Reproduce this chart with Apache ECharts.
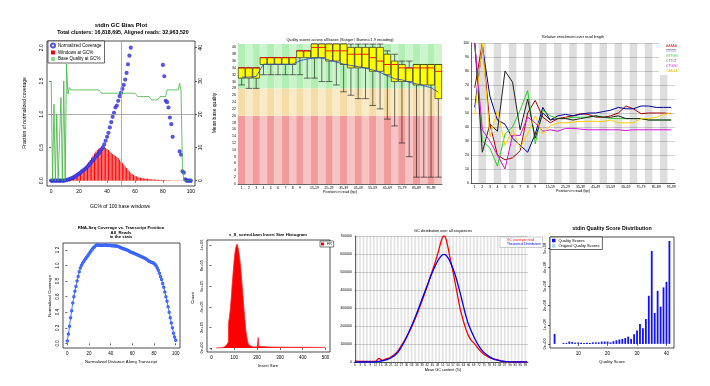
<!DOCTYPE html>
<html><head><meta charset="utf-8">
<script src="https://cdn.jsdelivr.net/npm/echarts@6/dist/echarts.min.js"></script>
<style>html,body{margin:0;padding:0;background:#fff}#c{width:710px;height:386px}</style>
</head><body><div id="c"></div>
<script>
// ---------------- Panel 1: GC bias plot (index = GC%) ----------------
const gcCoverage = [0,0,0,0,0,0,0,0,0,0,0.005,
 0.01,0.015,0.02,0.03,0.04,0.05,0.06,0.075,0.09,0.105,
 0.12,0.14,0.155,0.17,0.19,0.21,0.235,0.26,0.285,0.31,
 0.33,0.36,0.385,0.41,0.44,0.47,0.5,0.545,0.6,0.66,
 0.72,0.8,0.88,0.96,1.02,1.1,1.13,1.2,1.27,1.32,
 1.38,1.44,1.52,1.62,1.75,1.88,2.0,null,null,null,
 null,null,null,null,null,null,null,null,null,null,
 null,null,null,null,null,null,null,null,null,1.74,
 1.57,1.2,1.18,1.1,0.95,0.85,0.66,null,null,null,
 null,0.44,0.39,0.14,0.12,0.02,0,0,0,0];
const gcWindows = [0,0,0,0,0,0,0,0,0,0,0.002,
 0.004,0.007,0.012,0.018,0.025,0.035,0.045,0.058,0.072,0.09,
 0.11,0.13,0.16,0.19,0.22,0.25,0.28,0.31,0.35,0.38,
 0.41,0.44,0.46,0.48,0.49,0.5,0.515,0.505,0.49,0.475,
 0.46,0.44,0.42,0.4,0.385,0.37,0.355,0.34,0.315,0.29,
 0.265,0.24,0.215,0.19,0.165,0.14,0.12,0.1,0.087,0.075,
 0.065,0.055,0.05,0.045,0.04,0.037,0.034,0.031,0.028,0.025,
 0.023,0.021,0.019,0.017,0.015,0.014,0.013,0.012,0.011,0.01,
 0.009,0.008,0.007,0.006,0.005,0.004,0.004,0.003,0.003,0.002,
 0.002,0.001,0.001,0.001,0,0,0,0,0,0];
const gcBaseQual = [30,0,23,0,20,0,0,25,0,30,0,35,26,28,
 27.3,27.3,27.3,27.3,27.3,27.3,27.3,27.3,27.3,27.3,27.3,27.3,27.3,27.3,27.3,27.3,27.3,27.3,27.3,27.3,27.3,27.3,
 26.3,26.3,26.3,26.3,26.3,26.3,26.3,26.3,26.3,26.3,26.3,26.3,26.3,26.3,26.3,26.3,26.3,26.3,26.3,26.3,26.3,26.3,26.3,26.3,26.3,26.3,
 25.3,25.3,25.3,25.3,25.3,25.3,25.3,25.3,25.3,25.3,
 24.3,24.3,24.3,24.3,24.3,24.3,
 25.3,25.3,25.3,25.3,25.3,
 27.3,27.3,27.3,27.3,27.3,27.3,27.3,27.3,27.3,
 29.3,27,4,0,0,0,0,0,0];
const p1XTicks = [0,20,40,60,80,100];
const p1YTicks = [0,0.5,1,1.5,2];
const p1Y2Ticks = [0,10,20,30,40];

// ---------------- Panel 2: per-base quality boxplots ----------------
const p2Cats = ['1','2','3','4','5','6','7','8','9','10-14','15-19','20-24','25-29','30-34','35-39','40-44','45-49','50-54','55-59','60-64','65-69','70-74','75-79','80-84','85-89','90-94','95-99','100-101'];
const p2Low  = [29,28,28,32,32,32,32,32,32,31,31,30,30,29,27,26,25,25,23,22,19,17,12,8,2,2,2,2];
const p2Q1   = [31,31,31,35,35,35,35,35,37,37,37,37,36,36,35,34,34,34,33,33,32,30,30,30,29,29,29,25];
const p2Med  = [34,34,34,37,37,37,37,37,39,39,40,40,39,39,39,38,38,38,37,36,35,35,34,34,34,34,34,33];
const p2Q3   = [34,34,34,37,37,37,37,37,39,39,41,41,41,41,41,40,40,40,40,40,38,36,35,34,35,35,35,35];
const p2High = [34,34,34,37,37,37,37,37,39,39,41,41,41,41,41,41,41,41,41,41,39,38,36,36,35,35,35,35];
const p2Mean = [31.3,31.3,31.5,35.1,35.1,35.1,35.1,35.1,36.1,36.6,36.9,36.9,36.3,35.7,35.1,34.7,34.4,33.9,33.4,32.7,31.7,30.8,30.5,29.8,29.3,28.8,28.2,26.9];
const p2YTicks = [0,2,4,6,8,10,12,14,16,18,20,22,24,26,28,30,32,34,36,38,40];

// ---------------- Panel 3: k-mer relative enrichment ----------------
const p3Cats = ['1','2','3','4','5','6','7','8','9','10-14','15-19','20-24','25-29','30-34','35-39','40-44','45-49','50-54','55-59','60-64','65-69','70-74','75-79','80-84','85-89','90-94','95-99'];
const kmerAAAAA = [68,100,42,20,16.5,18,23,50,59,47,43,46,47,48,49.5,49,47,47,48,50,55,53,49.5,50,50,50,49.5];
const kmerTTTTT = [54,98,62,45,42,32,27,22,35,54,45,48,49,48,49,50,50,51,52,54,53,53,55,55,54,54,54];
const kmerGTTGG = [100,30,25,12,35,40,52,66,28,52,48,46,46,47,47,47,48,47,46,46,46,46,46,45,45,45,45];
const kmerCTTCT = [100,22,42,37,80,72,38,60,32,50,45,46,46,45,46,47,48,47,47,48,46,46,46,45,45,45,45];
const kmerCTGGC = [100,38,30,20,10,34,34,47,43,37,38,37,39,39,38.5,38,38,38,38,38,37.5,38,38,38,38,38,38];
const kmerCAAGA = [49,100,33,52,27,38,25,35,48,35,41,43,43,43.5,44,44,44,44,45,43,43,43,46,46,47,49,50];

// ---------------- Panel 4: RNA-seq coverage (index = % along transcript) ----------------
const rnaCoverage = [0.03,0.12,0.22,0.33,0.42,0.52,0.6,0.67,0.73,0.8,
 0.86,0.92,0.97,1.0,1.03,1.05,1.07,1.09,1.11,1.13,
 1.15,1.17,1.19,1.21,1.23,1.24,1.255,1.265,1.265,1.26,
 1.262,1.26,1.258,1.26,1.262,1.265,1.26,1.258,1.26,1.258,
 1.257,1.256,1.255,1.254,1.252,1.25,1.248,1.246,1.24,1.232,
 1.225,1.22,1.215,1.21,1.205,1.2,1.193,1.186,1.178,1.172,
 1.165,1.16,1.155,1.15,1.143,1.136,1.13,1.123,1.117,1.11,
 1.104,1.097,1.09,1.08,1.07,1.06,1.053,1.046,1.04,1.035,
 1.028,1.015,0.995,0.97,0.94,0.9,0.86,0.82,0.77,0.72,
 0.66,0.6,0.54,0.47,0.4,0.33,0.26,0.2,0.13,0.08,0.04];
const p4XTicks = [0,20,40,60,80,100];
const p4YTicks = [0,0.2,0.4,0.6,0.8,1.0,1.2];

// ---------------- Panel 5: insert size histogram ----------------
const insertSizes  = [20,40,50,55,60,65,70,74,75,78,80,83,85,88,90,93,95,98,100,103,105,108,110,112,115,118,120,123,125,128,130,133,135,138,140,143,145,148,150,153,155,158,160,163,165,170,180,190,200,203,205,207,210,250,300,350,400,450,500];
const insertCounts = [0,500,3000,8000,15000,25000,40000,60000,250000,290000,330000,390000,450000,530000,600000,680000,740000,820000,870000,930000,960000,990000,1000000,1010000,995000,960000,930000,880000,840000,780000,720000,640000,580000,500000,440000,360000,300000,230000,180000,130000,100000,70000,50000,35000,25000,15000,10000,9000,9000,20000,100000,15000,9000,8000,7000,6000,6000,5000,4000];
const p5XTicks = [0,100,200,300,400,500];
const p5YTicks = [0,200000,400000,600000,800000,1000000];

// ---------------- Panel 6: GC distribution ----------------
const gcReadX = [0,2,4,6,8,10,12,13,14,15,16,17,18,20,22,24,26,28,30,32,34,36,38,40,42,44,46,48,50,51,52,53,54,55,56,57,58,59,60,61,62,63,64,65,66,67,68,69,70,72,74,76,78,80,82,84,86,88,90,94,100];
const gcReadY = [6000,4000,3000,3000,3000,3000,4000,12000,20000,14000,9000,12000,18000,22000,34000,50000,76000,106000,138000,175000,218000,264000,314000,366000,420000,480000,535000,598000,668000,695000,700000,680000,640000,590000,545000,500000,450000,400000,350000,301000,262000,227000,195000,168000,145000,128000,116000,106000,95000,70000,50000,36000,26000,19000,14000,8000,4000,2000,800,0,0];
const gcTheoX = [0,10,12,14,16,18,20,22,24,26,28,30,32,34,36,38,40,42,44,46,48,50,51,52,53,54,55,56,57,58,59,60,61,62,63,64,65,66,68,70,72,74,76,78,80,82,84,86,88,90,92,94,100];
const gcTheoY = [0,0,1500,3700,7000,12000,18500,29000,44500,68000,100000,138000,180000,225000,273000,324000,375000,425000,475000,521000,560000,588000,596000,598000,592000,580000,563000,542000,518000,490000,460000,425000,388000,350000,310000,272000,238000,208000,162000,122000,88000,62000,44000,30000,19000,12000,8000,4500,2000,800,200,0,0];
const p6Cats = []; for (let i = 0; i <= 100; i++) p6Cats.push(String(i));

// ---------------- Panel 7: quality score distribution ----------------
const qScores = [2,5,6,7,8,9,10,11,12,13,14,15,16,17,18,19,20,21,22,23,24,25,26,27,28,29,30,31,32,33,34,35,36,37,38,39,40,41];
const qCounts = [0.52e8,0.05e8,0.05e8,0.12e8,0.1e8,0.07e8,0.07e8,0.06e8,0.05e8,0.06e8,0.05e8,0.08e8,0.08e8,0.08e8,0.12e8,0.12e8,0.12e8,0.08e8,0.14e8,0.19e8,0.23e8,0.26e8,0.31e8,0.38e8,0.26e8,0.5e8,0.7e8,1.04e8,0.82e8,1.3e8,2.52e8,4.87e8,1.62e8,2.78e8,1.95e8,2.96e8,3.25e8,5.39e8];
const p7XTicks = [10,20,30,40];
const p7YTicks = [0,1e8,2e8,3e8,4e8,5e8];

// ================= helpers =================
const FONT = 'Liberation Sans';
function sci(v){ if (v === 0) return '0e+00'; const e = Math.floor(Math.log10(Math.abs(v)) + 1e-9); const m = Math.round(v / Math.pow(10, e)); return m + 'e+' + (e < 10 ? '0' : '') + e; }
function rAxis(gi, min, max, ticks, fmt, rot, pos, fs) {
  return { type: 'value', gridIndex: gi, min: min, max: max, position: pos,
    axisLine: { show: false }, splitLine: { show: false },
    axisTick: { show: true, customValues: ticks, length: 2, lineStyle: { color: '#000', width: 0.6 } },
    axisLabel: { customValues: ticks, fontSize: fs || 5, margin: 3, color: '#000', rotate: rot || 0, formatter: fmt || undefined } };
}
function txt(x, y, s, size, bold, rot, color) {
  return { type: 'text', x: x, y: y, rotation: rot || 0, silent: true,
    style: { text: s, fontSize: size, fontWeight: bold ? 'bold' : 'normal', fontFamily: FONT, fill: color || '#000', align: 'center', verticalAlign: 'middle' } };
}
const oneDec = v => v.toFixed(1);
const plain = v => String(v);
const lighter = (i, a, b) => (i % 2 === 0 ? a : b);

const option = {
  animation: false,
  backgroundColor: '#fff',
  textStyle: { fontFamily: FONT },
  grid: [
    { left: 47, top: 41, width: 148, height: 145, show: true, borderColor: '#000', borderWidth: 0.7, backgroundColor: 'transparent' },
    { left: 238, top: 44, width: 204, height: 140 },
    { left: 471, top: 43, width: 204, height: 140 },
    { left: 63, top: 243, width: 117, height: 105, show: true, borderColor: '#000', borderWidth: 0.7, backgroundColor: 'transparent' },
    { left: 207, top: 240, width: 123, height: 112, show: true, borderColor: '#000', borderWidth: 0.7, backgroundColor: 'transparent' },
    { left: 354, top: 236, width: 174, height: 126 },
    { left: 550, top: 237, width: 124, height: 111, show: true, borderColor: '#000', borderWidth: 0.7, backgroundColor: 'transparent' }
  ],
  xAxis: [
    rAxis(0, -3, 103, p1XTicks, null, 0, 'bottom', 5),
    { type: 'category', gridIndex: 1, data: p2Cats, boundaryGap: true,
      axisLine: { lineStyle: { color: '#000', width: 0.6 } }, axisTick: { show: false },
      axisLabel: { fontSize: 3.5, margin: 2, color: '#000', interval: (i) => i < 9 || (i >= 10 && i <= 26 && (i - 10) % 2 === 0) } },
    { type: 'category', gridIndex: 2, data: p3Cats, boundaryGap: true,
      axisLine: { lineStyle: { color: '#000', width: 0.6 } }, axisTick: { show: false },
      axisLabel: { fontSize: 3.5, margin: 2, color: '#000', interval: (i) => i < 9 || (i >= 10 && i % 2 === 0) } },
    rAxis(3, -4, 104, p4XTicks, null, 0, 'bottom', 4.5),
    rAxis(4, -20, 520, p5XTicks, null, 0, 'bottom', 4.5),
    { type: 'category', gridIndex: 5, data: p6Cats, boundaryGap: true,
      axisLine: { lineStyle: { color: '#000', width: 0.6 } }, axisTick: { show: false },
      axisLabel: { fontSize: 3, margin: 2, color: '#000', interval: 2 } },
    { type: 'value', gridIndex: 5, min: -0.5, max: 100.5, show: false },
    rAxis(6, 0.44, 42.56, p7XTicks, null, 0, 'bottom', 4.5)
  ],
  yAxis: [
    rAxis(0, -0.08, 2.1, p1YTicks, oneDec, 90, 'left', 5),
    rAxis(0, -1.6, 42, p1Y2Ticks, null, 90, 'right', 5),
    { type: 'value', gridIndex: 1, min: 0, max: 41,
      axisLine: { show: true, lineStyle: { color: '#000', width: 0.6 } }, axisTick: { show: false }, splitLine: { show: false },
      axisLabel: { customValues: p2YTicks, fontSize: 3.5, margin: 2, color: '#000' } },
    { type: 'value', gridIndex: 2, min: 0, max: 100, interval: 10,
      axisLine: { show: true, lineStyle: { color: '#000', width: 0.6 } }, axisTick: { show: false },
      splitLine: { show: true, lineStyle: { color: '#b4b4b4', width: 0.6 } },
      axisLabel: { fontSize: 3.5, margin: 2, color: '#000' } },
    rAxis(3, -0.06, 1.29, p4YTicks, oneDec, 90, 'left', 4.5),
    rAxis(4, -40000, 1050000, p5YTicks, sci, 90, 'left', 4),
    { type: 'value', gridIndex: 5, min: 0, max: 700000, interval: 100000,
      axisLine: { show: true, lineStyle: { color: '#000', width: 0.6 } }, axisTick: { show: false },
      splitLine: { show: true, lineStyle: { color: '#b4b4b4', width: 0.6 } },
      axisLabel: { fontSize: 3.5, margin: 2, color: '#000', formatter: plain } },
    rAxis(6, -2.16e7, 5.6e8, p7YTicks, sci, 90, 'left', 4)
  ],
  legend: [
    { left: 48, top: 41, orient: 'vertical', itemGap: 1.5, itemWidth: 4, itemHeight: 4, padding: [1.5, 3, 1.5, 2],
      borderColor: '#000', borderWidth: 0.6, backgroundColor: '#fff', textStyle: { fontSize: 4.5, color: '#000', padding: [0, 0, 0, -2] },
      data: [{ name: 'Normalized Coverage', icon: 'emptyCircle' }, { name: 'Windows at GC%', icon: 'rect' }, { name: 'Base Quality at GC%', icon: 'rect' }] },
    { left: 659, top: 43, orient: 'vertical', itemGap: 2, itemWidth: 0, itemHeight: 3, padding: [2, 2, 2, 2], backgroundColor: '#fff',
      textStyle: { fontSize: 3.3, padding: 0 },
      data: [
        { name: 'AAAAA', icon: 'none', textStyle: { color: '#cc3333' } },
        { name: 'TTTTT', icon: 'none', textStyle: { color: '#000088' } },
        { name: 'GTTGG', icon: 'none', textStyle: { color: '#22bb22' } },
        { name: 'CTTCT', icon: 'none', textStyle: { color: '#555555' } },
        { name: 'CTGGC', icon: 'none', textStyle: { color: '#cc22cc' } },
        { name: 'CAAGA', icon: 'none', textStyle: { color: '#e6c200' } } ] },
    { left: 320, top: 241, orient: 'vertical', itemWidth: 3, itemHeight: 3, padding: [1, 2, 1, 1], borderColor: '#000', borderWidth: 0.5,
      backgroundColor: '#fff', textStyle: { fontSize: 3.5, color: '#000', padding: [0, 0, 0, -2] }, data: [{ name: 'FR', icon: 'rect' }] },
    { left: 500, top: 237, orient: 'vertical', itemGap: 1.5, itemWidth: 0, itemHeight: 3, padding: [1.5, 2, 1.5, 2], borderColor: '#999', borderWidth: 0.5,
      backgroundColor: '#fff', textStyle: { fontSize: 3.3, padding: 0 },
      data: [{ name: 'GC count per read', icon: 'none', textStyle: { color: '#ff0000' } },
             { name: 'Theoretical Distribution', icon: 'none', textStyle: { color: '#0000ff' } }] },
    { left: 550, top: 237, orient: 'vertical', itemGap: 1.5, itemWidth: 3.5, itemHeight: 3.5, padding: [1.5, 3, 1.5, 2], borderColor: '#000', borderWidth: 0.6,
      backgroundColor: '#fff', textStyle: { fontSize: 4, color: '#000', padding: [0, 0, 0, -2] },
      data: [{ name: 'Quality Scores', icon: 'rect' }, { name: 'Original Quality Scores', icon: 'rect' }] }
  ],
  series: [
    // Panel 1
    { name: 'Windows at GC%', type: 'bar', xAxisIndex: 0, yAxisIndex: 0, barWidth: 1,
      data: gcWindows.map((v, i) => [i, v]), itemStyle: { color: '#ff0000' },
      markLine: { silent: true, symbol: 'none', label: { show: false }, lineStyle: { color: '#9a9a9a', width: 0.8, type: 'solid' },
        data: [{ xAxis: 50 }, { yAxis: 1 }] } },
    { name: 'Base Quality at GC%', type: 'line', xAxisIndex: 0, yAxisIndex: 1, showSymbol: false,
      data: gcBaseQual.map((v, i) => [i, v]), lineStyle: { color: '#3cb43c', width: 0.8 }, itemStyle: { color: '#90dc90' } },
    { name: 'Normalized Coverage', type: 'scatter', xAxisIndex: 0, yAxisIndex: 0, symbol: 'emptyCircle', symbolSize: 2.2,
      data: gcCoverage.map((v, i) => (v === null ? null : [i, v])).filter(d => d !== null),
      itemStyle: { color: '#2a2ae0', borderWidth: 0.6 } },
    // Panel 2 background bands
    { type: 'bar', xAxisIndex: 1, yAxisIndex: 2, stack: 'bg', barWidth: '100%', silent: true, z: 1,
      data: p2Cats.map(() => 20), itemStyle: { color: (p) => lighter(p.dataIndex, '#f29b9b', '#f7c4c4') } },
    { type: 'bar', xAxisIndex: 1, yAxisIndex: 2, stack: 'bg', barWidth: '100%', silent: true, z: 1,
      data: p2Cats.map(() => 8), itemStyle: { color: (p) => lighter(p.dataIndex, '#f6dca6', '#f9eac8') } },
    { type: 'bar', xAxisIndex: 1, yAxisIndex: 2, stack: 'bg', barWidth: '100%', silent: true, z: 1,
      data: p2Cats.map(() => 13), itemStyle: { color: (p) => lighter(p.dataIndex, '#b2efb2', '#cdf5cd') } },
    { type: 'custom', xAxisIndex: 1, yAxisIndex: 2, z: 3,
      encode: { x: 0, y: [1, 2, 3, 4, 5] },
      data: p2Cats.map((c, i) => [i, p2Low[i], p2Q1[i], p2Med[i], p2Q3[i], p2High[i]]),
      renderItem: function (params, api) {
        const i = api.value(0);
        const lo = api.coord([i, api.value(1)]), q1 = api.coord([i, api.value(2)]), md = api.coord([i, api.value(3)]);
        const q3 = api.coord([i, api.value(4)]), hi = api.coord([i, api.value(5)]);
        const bw = api.size([1, 0])[0];
        const half = bw * 0.46, x = lo[0];
        const ls = { stroke: '#111', lineWidth: 0.6 };
        return { type: 'group', children: [
          { type: 'line', shape: { x1: x, y1: lo[1], x2: x, y2: q1[1] }, style: ls },
          { type: 'line', shape: { x1: x, y1: q3[1], x2: x, y2: hi[1] }, style: ls },
          { type: 'line', shape: { x1: x - half, y1: lo[1], x2: x + half, y2: lo[1] }, style: ls },
          { type: 'line', shape: { x1: x - half, y1: hi[1], x2: x + half, y2: hi[1] }, style: ls },
          { type: 'rect', shape: { x: x - half, y: q3[1], width: half * 2, height: Math.max(q1[1] - q3[1], 0.5) }, style: { fill: '#ffff00', stroke: '#111', lineWidth: 0.6 } },
          { type: 'line', shape: { x1: x - half, y1: md[1], x2: x + half, y2: md[1] }, style: { stroke: '#ff0000', lineWidth: 0.9 } }
        ] };
      } },
    { type: 'line', xAxisIndex: 1, yAxisIndex: 2, z: 4, data: p2Mean, showSymbol: false, lineStyle: { color: '#2040d0', width: 0.8 } },
    // Panel 3
    { type: 'bar', xAxisIndex: 2, yAxisIndex: 3, barWidth: '100%', silent: true, z: 1,
      data: p3Cats.map((c, i) => (i % 2 === 1 ? 100 : null)), itemStyle: { color: 'rgba(0,0,0,0.13)' } },
    { name: 'AAAAA', type: 'line', xAxisIndex: 2, yAxisIndex: 3, data: kmerAAAAA, showSymbol: false, lineStyle: { color: '#aa0000', width: 1 }, itemStyle: { color: '#aa0000' } },
    { name: 'TTTTT', type: 'line', xAxisIndex: 2, yAxisIndex: 3, data: kmerTTTTT, showSymbol: false, lineStyle: { color: '#000099', width: 1 }, itemStyle: { color: '#000099' } },
    { name: 'GTTGG', type: 'line', xAxisIndex: 2, yAxisIndex: 3, data: kmerGTTGG, showSymbol: false, lineStyle: { color: '#22cc22', width: 1 }, itemStyle: { color: '#22cc22' } },
    { name: 'CTTCT', type: 'line', xAxisIndex: 2, yAxisIndex: 3, data: kmerCTTCT, showSymbol: false, lineStyle: { color: '#222222', width: 1 }, itemStyle: { color: '#222222' } },
    { name: 'CTGGC', type: 'line', xAxisIndex: 2, yAxisIndex: 3, data: kmerCTGGC, showSymbol: false, lineStyle: { color: '#dd11dd', width: 1 }, itemStyle: { color: '#dd11dd' } },
    { name: 'CAAGA', type: 'line', xAxisIndex: 2, yAxisIndex: 3, data: kmerCAAGA, showSymbol: false, lineStyle: { color: '#ffcc00', width: 1 }, itemStyle: { color: '#ffcc00' } },
    // Panel 4
    { type: 'line', xAxisIndex: 3, yAxisIndex: 4, data: rnaCoverage.map((v, i) => [i, v]), symbol: 'emptyCircle', symbolSize: 1.5,
      lineStyle: { color: '#3a64ff', width: 0.9 }, itemStyle: { color: '#3a64ff', borderWidth: 0.4 } },
    // Panel 5
    { name: 'FR', type: 'line', xAxisIndex: 4, yAxisIndex: 5, data: insertSizes.map((x, i) => [x, insertCounts[i]]), showSymbol: false,
      lineStyle: { color: '#ff2020', width: 0.8 }, areaStyle: { color: '#ff0000', opacity: 1 }, itemStyle: { color: '#ff0000' } },
    // Panel 6
    { type: 'bar', xAxisIndex: 5, yAxisIndex: 6, barWidth: '100%', silent: true, z: 1,
      data: p6Cats.map((c, i) => (i % 2 === 1 ? 700000 : null)), itemStyle: { color: 'rgba(0,0,0,0.11)' } },
    { name: 'GC count per read', type: 'line', xAxisIndex: 6, yAxisIndex: 6, smooth: 0.3, showSymbol: false,
      data: gcReadX.map((x, i) => [x, gcReadY[i]]), lineStyle: { color: '#ff0000', width: 1.3 }, itemStyle: { color: '#ff0000' } },
    { name: 'Theoretical Distribution', type: 'line', xAxisIndex: 6, yAxisIndex: 6, smooth: 0.3, showSymbol: false,
      data: gcTheoX.map((x, i) => [x, gcTheoY[i]]), lineStyle: { color: '#0000ff', width: 1.3 }, itemStyle: { color: '#0000ff' } },
    // Panel 7
    { name: 'Original Quality Scores', type: 'bar', xAxisIndex: 7, yAxisIndex: 7, barWidth: 2, data: [], itemStyle: { color: '#a8dcf0' } },
    { name: 'Quality Scores', type: 'bar', xAxisIndex: 7, yAxisIndex: 7, barWidth: 1.8, barGap: '-100%',
      data: qScores.map((q, i) => [q, qCounts[i]]), itemStyle: { color: '#1010ff' } }
  ],
  graphic: [
    txt(121, 25, 'stdin GC Bias Plot', 6, true),
    txt(123, 33, 'Total clusters: 16,818,695, Aligned reads: 32,963,520', 5.3, true),
    txt(25, 113, 'Fraction of normalized coverage', 5, false, Math.PI / 2),
    txt(215, 113, 'Mean base quality', 5, false, Math.PI / 2),
    txt(120, 207, 'GC% of 100 base windows', 5, false),
    txt(340, 40, 'Quality scores across all bases (Sanger / Illumina 1.9 encoding)', 3.8, false),
    txt(340, 192, 'Position in read (bp)', 3.8, false),
    txt(573, 37, 'Relative enrichment over read length', 3.8, false),
    txt(573, 191, 'Position in read (bp)', 3.8, false),
    txt(121, 228, 'RNA-Seq Coverage vs. Transcript Position', 4.3, true),
    txt(121, 232.5, 'All_Reads', 4.3, true),
    txt(121, 237, 'in the stats', 4.3, true),
    txt(121, 362, 'Normalized Distance Along Transcript', 4.3, false),
    txt(50, 296, 'Normalized Coverage', 4.3, false, Math.PI / 2),
    txt(268, 234.5, 's_8_sorted.bam Insert Size Histogram', 4.3, true),
    txt(268, 366, 'Insert Size', 4.3, false),
    txt(193, 298, 'Count', 4.3, false, Math.PI / 2),
    txt(443, 231, 'GC distribution over all sequences', 3.8, false),
    txt(443, 370, 'Mean GC content (%)', 3.8, false),
    txt(612, 228.5, 'stdin Quality Score Distribution', 5.3, true),
    txt(612, 362, 'Quality Score', 4.3, false)
  ]
};
const chart = echarts.init(document.getElementById('c'), null, { renderer: 'canvas', width: 710, height: 386 });
chart.setOption(option);
</script>
</body></html>
